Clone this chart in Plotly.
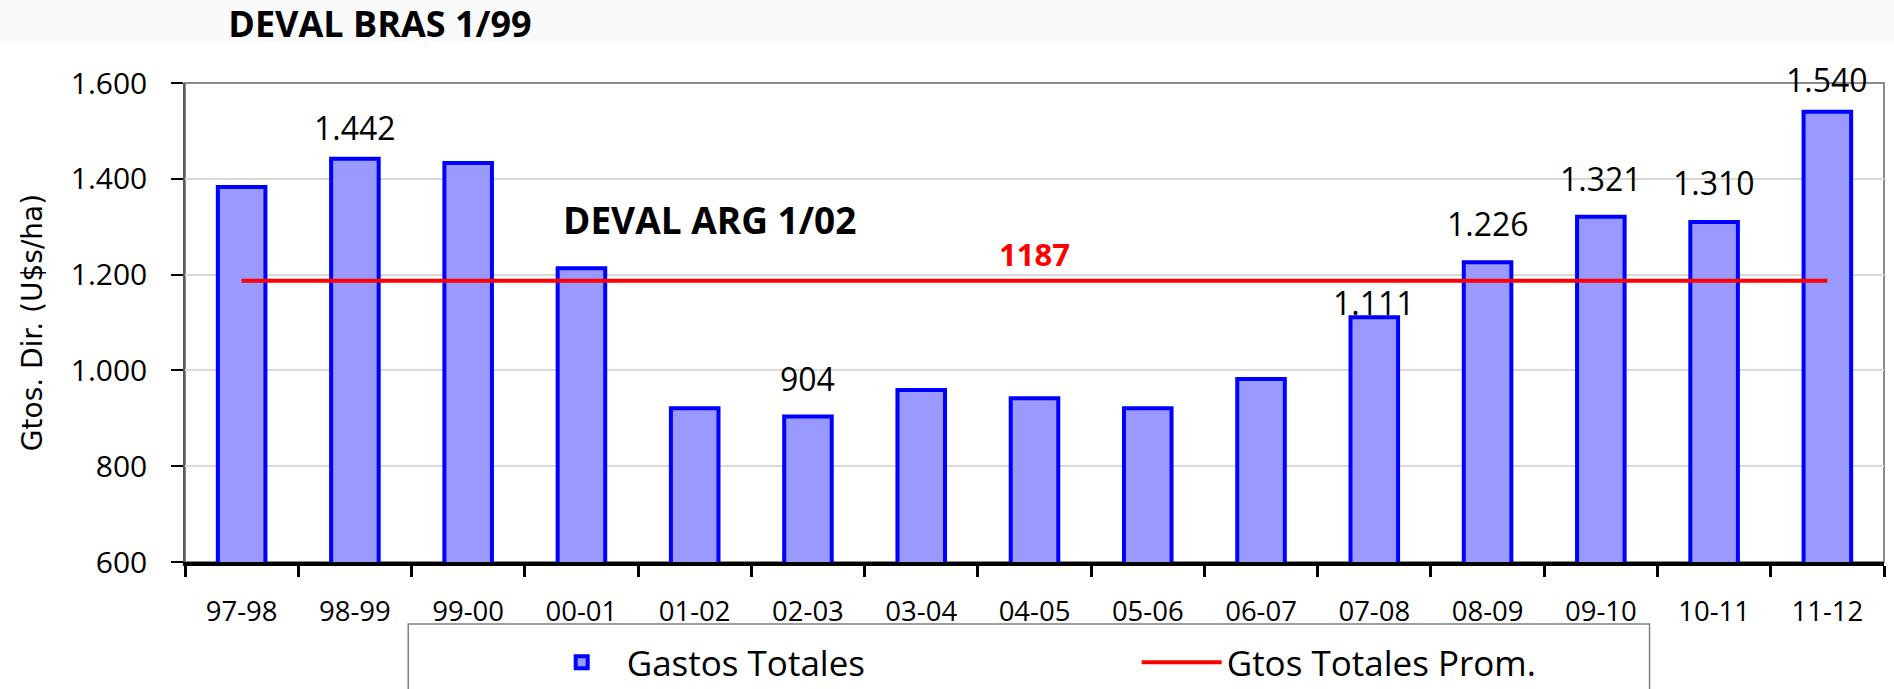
import plotly.graph_objects as go

# ---- data ----
categories = ["97-98", "98-99", "99-00", "00-01", "01-02", "02-03", "03-04", "04-05",
              "05-06", "06-07", "07-08", "08-09", "09-10", "10-11", "11-12"]
gastos_totales = [1383, 1442, 1433, 1213, 921, 904, 959, 942, 921, 982,
                  1111, 1226, 1321, 1310, 1540]
promedio = 1187
labelled = ["98-99", "02-03", "07-08", "08-09", "09-10", "10-11", "11-12"]
label_shift = [31, 38, 15, 39, 38, 39, 32]
y_ticks = [600, 800, 1000, 1200, 1400, 1600]

FONT = "Open Sans"


def fmt(v):
    return f"{v:,}".replace(",", ".")


fig = go.Figure()
fig.add_trace(go.Bar(
    x=categories, y=gastos_totales, name="Gastos Totales",
    marker=dict(color="#9999FF", line=dict(color="#0000FF", width=4)),
    width=0.42,
))
fig.add_trace(go.Scatter(
    x=categories, y=[promedio] * len(categories), name="Gtos Totales Prom.",
    mode="lines", line=dict(color="#FF0000", width=4),
))

annotations = []
for cat, sh in zip(labelled, label_shift):
    v = gastos_totales[categories.index(cat)]
    annotations.append(dict(
        x=cat, y=v, xref="x", yref="y", text=fmt(v), showarrow=False,
        yshift=sh, yanchor="middle", font=dict(family=FONT, size=32, color="#000000"),
    ))
annotations.append(dict(
    x=0.5, y=promedio, xref="paper", yref="y", text="<b>%d</b>" % promedio,
    showarrow=False, yshift=27, yanchor="middle",
    font=dict(family=FONT, size=31, color="#FF0000"),
))
annotations.append(dict(
    x=0.309, y=1316, xref="paper", yref="y", text="<b>DEVAL ARG 1/02</b>",
    showarrow=False, yanchor="middle", xanchor="center",
    font=dict(family=FONT, size=37, color="#000000"),
))

shapes = [
    # faint band behind the title
    dict(type="rect", xref="paper", yref="paper", x0=-0.2, x1=1.01, y0=1.0856, y1=1.2,
         fillcolor="#FAFAFA", line=dict(width=0), layer="below"),
    # plot frame (top / right)
    dict(type="rect", xref="paper", yref="paper", x0=0, x1=1, y0=0, y1=1,
         line=dict(color="#8C8C8C", width=2), fillcolor="rgba(0,0,0,0)", layer="below"),
    # legend frame
    dict(type="rect", xref="paper", yref="paper", x0=0.1314, x1=0.862, y0=-0.30, y1=-0.1294,
         line=dict(color="#7F7F7F", width=1.5), fillcolor="rgba(0,0,0,0)"),
]

fig.update_layout(
    width=1894, height=689,
    margin=dict(l=185, r=10, t=83, b=127, autoexpand=False),
    paper_bgcolor="white", plot_bgcolor="white",
    separators=",.",
    title=dict(text="<b>DEVAL BRAS 1/99</b>", xref="container", yref="container",
               x=0.2006, xanchor="center", y=0.965, yanchor="middle",
               font=dict(family=FONT, size=36, color="#000000")),
    showlegend=True,
    legend=dict(orientation="h", x=0.207, xanchor="left", y=-0.148, yanchor="top",
                font=dict(family=FONT, size=35, color="#000000"),
                itemwidth=80, entrywidth=505, entrywidthmode="pixels",
                bgcolor="rgba(0,0,0,0)", borderwidth=0),
    annotations=annotations,
    shapes=shapes,
)

fig.update_xaxes(
    type="category", showgrid=False,
    showline=True, linecolor="#000000", linewidth=4,
    ticks="outside", tickson="boundaries", ticklen=11, tickwidth=3, tickcolor="#000000",
    tickfont=dict(family=FONT, size=27.5, color="#000000"),
    ticklabelstandoff=22,
)
fig.update_yaxes(
    range=[600, 1600], tickvals=y_ticks, tickformat=",d",
    showgrid=True, gridcolor="#D9D9D9", gridwidth=1.5,
    showline=True, linecolor="#595959", linewidth=1.5,
    ticks="outside", ticklen=12, tickwidth=1.5, tickcolor="#000000",
    tickfont=dict(family=FONT, size=30, color="#000000"),
    ticklabelstandoff=18,
    title=dict(text="Gtos. Dir. (U$s/ha)", standoff=20,
               font=dict(family="DejaVu Sans", size=28, color="#000000")),
    zeroline=False,
)

fig.write_html("out.html", config={"displayModeBar": False},
               post_script="document.body.style.margin='0';document.body.style.overflow='hidden';")
